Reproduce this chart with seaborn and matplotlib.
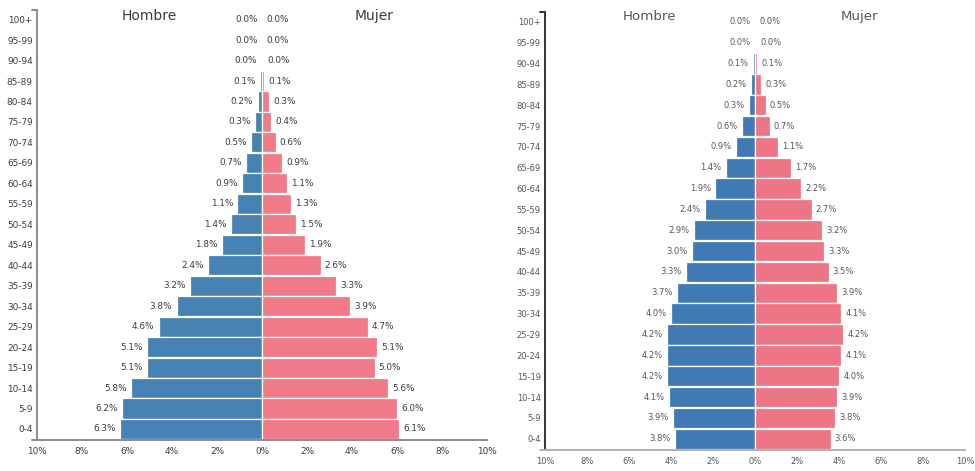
import matplotlib
matplotlib.use("Agg")
import matplotlib.pyplot as plt
import seaborn as sns
import pandas as pd
from matplotlib.lines import Line2D

sns.set_style("white")
plt.rcParams['font.family'] = ['DejaVu Sans']

ages = ["0-4", "5-9", "10-14", "15-19", "20-24", "25-29", "30-34", "35-39",
        "40-44", "45-49", "50-54", "55-59", "60-64", "65-69", "70-74", "75-79",
        "80-84", "85-89", "90-94", "95-99", "100+"]

# Left pyramid (% of population)
left_hombre = [6.3, 6.2, 5.8, 5.1, 5.1, 4.6, 3.8, 3.2, 2.4, 1.8, 1.4, 1.1, 0.9,
               0.7, 0.5, 0.3, 0.2, 0.1, 0.04, 0.02, 0.01]
left_mujer = [6.1, 6.0, 5.6, 5.0, 5.1, 4.7, 3.9, 3.3, 2.6, 1.9, 1.5, 1.3, 1.1,
              0.9, 0.6, 0.4, 0.3, 0.1, 0.04, 0.03, 0.01]

# Right pyramid (% of population)
right_hombre = [3.8, 3.9, 4.1, 4.2, 4.2, 4.2, 4.0, 3.7, 3.3, 3.0, 2.9, 2.4, 1.9,
                1.4, 0.9, 0.6, 0.3, 0.2, 0.1, 0.02, 0.01]
right_mujer = [3.6, 3.8, 3.9, 4.0, 4.1, 4.2, 4.1, 3.9, 3.5, 3.3, 3.2, 2.7, 2.2,
               1.7, 1.1, 0.7, 0.5, 0.3, 0.1, 0.04, 0.01]

sexes = ["Hombre", "Mujer"]
xticks = [-10, -8, -6, -4, -2, 0, 2, 4, 6, 8, 10]
xtick_labels = [f"{abs(t)}%" for t in xticks]

BLUE = "#4682b4"
PINK = "#f07a88"

FIG_W, FIG_H = 975, 471
fig = plt.figure(figsize=(FIG_W / 100, FIG_H / 100), dpi=100)


def pyramid(rect_px, hombre, mujer, text_color, spine_color, yspine_color,
            label_size, tick_size, title_size, title_y, blue, pink):
    x0, y_top, x1, y_bot = rect_px
    ax = fig.add_axes([x0 / FIG_W, (FIG_H - y_bot) / FIG_H,
                       (x1 - x0) / FIG_W, (y_bot - y_top) / FIG_H])
    ax_w = x1 - x0
    df = pd.DataFrame({
        "age": ages * 2,
        "sexo": ["Hombre"] * len(ages) + ["Mujer"] * len(ages),
        "valor": [-v for v in hombre] + list(mujer),
    })
    sns.barplot(data=df, y="age", x="valor", hue="sexo", order=ages[::-1],
                hue_order=sexes, palette=[blue, pink], dodge=False,
                saturation=1, orient="h", width=0.98, edgecolor="white",
                linewidth=0.9, legend=False, ax=ax)
    vals = {"Hombre": hombre, "Mujer": mujer}
    for cont, sx in zip(ax.containers, sexes):
        v = vals[sx][::-1]
        ax.bar_label(cont, labels=[f"{x:.1f}%" for x in v], padding=3,
                     fontsize=label_size, color=text_color)
    n = len(ages)
    ax.set_xlim(-10, 10)
    ax.set_ylim(n - 1 + 0.54, -0.47)
    ax.set_xticks(xticks)
    ax.set_xticklabels(xtick_labels)
    ax.set_xlabel("")
    ax.set_ylabel("")
    ax.tick_params(axis="x", direction="out", length=3, width=1,
                   color=spine_color, labelsize=tick_size,
                   labelcolor=text_color, pad=2)
    ax.tick_params(axis="y", length=0, labelsize=tick_size,
                   labelcolor=text_color, pad=3)
    for s in ["top", "right"]:
        ax.spines[s].set_visible(False)
    ax.spines["bottom"].set_color(spine_color)
    ax.spines["bottom"].set_linewidth(1.4)
    ax.spines["left"].set_color(yspine_color)
    ax.spines["left"].set_linewidth(1.4)
    # outer ticks of the age axis (top and bottom ends)
    for yy in (1, 0):
        ax.add_line(Line2D([-5 / ax_w, 0], [yy, yy], transform=ax.transAxes,
                           color=yspine_color if yy == 1 else spine_color,
                           linewidth=1.4, clip_on=False))
    ax.text(-5, title_y, "Hombre", ha="center", va="center",
            fontsize=title_size, color=text_color)
    ax.text(5, title_y, "Mujer", ha="center", va="center",
            fontsize=title_size, color=text_color)
    return ax


pyramid((37, 10, 487, 440), left_hombre, left_mujer,
        text_color="#3b3b4b", spine_color="#8a8a98", yspine_color="#8a8a98",
        label_size=6.4, tick_size=6.4, title_size=10, title_y=-0.2,
        blue="#4682b4", pink="#f07a88")

pyramid((545, 12, 965, 450), right_hombre, right_mujer,
        text_color="#555560", spine_color="#b0b0b8", yspine_color="#333333",
        label_size=6.0, tick_size=6.0, title_size=9.6, title_y=-0.25,
        blue="#3f7ab5", pink="#ee7585")

fig.savefig("out.png", dpi=100)
